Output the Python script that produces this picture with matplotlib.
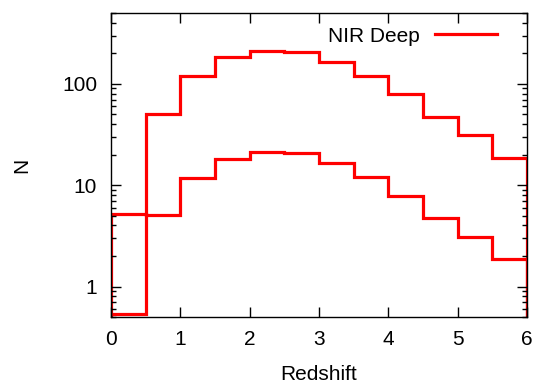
import numpy as np
import matplotlib.pyplot as plt

# redshift bin edges
edges = [0, 0.5, 1, 1.5, 2, 2.5, 3, 3.5, 4, 4.5, 5, 5.5, 6]
# NIR Deep counts per bin
n_deep = [0.54, 50.5, 120, 182, 213, 208, 166, 120, 79, 47.5, 31.5, 18.7]
# lower histogram
n_low = [5.25, 5.05, 11.9, 18.1, 21.2, 20.8, 16.7, 12.0, 7.9, 4.78, 3.09, 1.87]

xticks = [0, 1, 2, 3, 4, 5, 6]
yticks = [1, 10, 100]
ytick_labels = ['1', '10', '100']

plt.rcParams['font.family'] = ['Liberation Sans', 'DejaVu Sans']
plt.rcParams['font.size'] = 15

fig = plt.figure(figsize=(5.37, 3.83), dpi=100)
ax = fig.add_axes([0.2067, 0.1723, 0.9814 - 0.2067, 0.966 - 0.1723])

ax.stairs(n_deep, edges, baseline=1e-3, color='red', lw=2.3, label='NIR Deep')
ax.stairs(n_low, edges, baseline=1e-3, color='red', lw=2.3)

ax.set_yscale('log')
ax.set_xlim(0, 6)
ax.set_ylim(0.5, 500)
ax.set_xticks(xticks)
ax.set_yticks(yticks)
ax.set_yticklabels(ytick_labels)

ax.tick_params(which='both', direction='in', top=True, right=True, width=1)
ax.tick_params(which='major', length=7)
ax.tick_params(axis='x', which='major', pad=9)
ax.tick_params(axis='y', which='major', pad=10)
ax.tick_params(which='minor', length=3.5)
ax.tick_params(axis='x', which='minor', bottom=False, top=False)
for s in ax.spines.values():
    s.set_linewidth(1)

ax.set_xlabel('Redshift', labelpad=12)
ax.set_ylabel('N', labelpad=22)

leg = ax.legend(loc='upper right', frameon=False, handlelength=3.0,
                markerfirst=False, bbox_to_anchor=(0.964, 1.003),
                borderaxespad=0.3, handletextpad=0.75, fontsize=15)

plt.savefig('out.png', dpi=100)
